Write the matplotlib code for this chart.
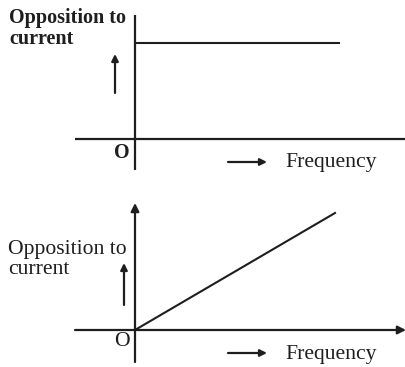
import matplotlib
matplotlib.use("Agg")
import matplotlib.pyplot as plt

# Data (abstract units)
freq = [0.0, 1.0]
opp_top = [1.0, 1.0]      # constant opposition (resistance)
opp_bottom = [0.0, 1.0]   # linear opposition (inductive reactance)
ylabel = "Opposition to\ncurrent"
xlabel = "Frequency"

W, H = 406, 367
fig = plt.figure(figsize=(W / 100, H / 100), dpi=100)
C = "#1e1e1e"
FONT = "Liberation Serif"
FS = 14.5
FS2 = 15.6

def add_panel(py0, py1, ox, oy, sx, sy):
    ax = fig.add_axes([0, 1 - py1 / H, 1, (py1 - py0) / H])
    ax.set_xlim((0 - ox) / sx, (W - ox) / sx)
    ax.set_ylim((oy - py1) / sy, (oy - py0) / sy)
    ax.axis("off")
    X = lambda px: (px - ox) / sx
    Y = lambda py: (oy - py) / sy
    return ax, X, Y

# ---- Top panel ----
ax1, X, Y = add_panel(0, 180, 135, 139, 204, 96)
ax1.plot([0, 0], [Y(170), Y(15)], color=C, lw=1.6, solid_capstyle="butt")
ax1.plot([X(75), X(406)], [0, 0], color=C, lw=1.6, solid_capstyle="butt")
ax1.plot(freq, opp_top, color=C, lw=1.5)
ax1.text(X(9), Y(8), ylabel, fontsize=FS, family=FONT, fontweight="bold",
         ha="left", va="top", color=C, linespacing=1.1)
ax1.annotate("", xy=(X(115), Y(54)), xytext=(X(115), Y(93)),
             arrowprops=dict(arrowstyle="-|>", color=C, lw=1.6, mutation_scale=10,
                             shrinkA=0, shrinkB=0))
ax1.text(X(122), Y(153), "O", fontsize=FS, family=FONT, fontweight="bold",
         ha="center", va="center", color=C)
ax1.annotate("", xy=(X(267), Y(162)), xytext=(X(228), Y(162)),
             arrowprops=dict(arrowstyle="-|>", color=C, lw=1.6, mutation_scale=10,
                             shrinkA=0, shrinkB=0))
ax1.text(X(285), Y(163), xlabel, fontsize=FS2, family=FONT,
         ha="left", va="center", color=C)

# ---- Bottom panel ----
ax2, X, Y = add_panel(180, 367, 135, 330, 200, 117)
ax2.annotate("", xy=(0, Y(203)), xytext=(0, Y(362)),
             arrowprops=dict(arrowstyle="-|>", color=C, lw=1.6, mutation_scale=12,
                             shrinkA=0, shrinkB=0))
ax2.annotate("", xy=(X(406), 0), xytext=(X(75), 0),
             arrowprops=dict(arrowstyle="-|>", color=C, lw=1.6, mutation_scale=12,
                             shrinkA=0, shrinkB=0))
ax2.plot(freq, opp_bottom, color=C, lw=1.5)
ax2.text(X(8), Y(240), ylabel, fontsize=FS2, family=FONT,
         ha="left", va="top", color=C, linespacing=1.1)
ax2.annotate("", xy=(X(124), Y(263)), xytext=(X(124), Y(305)),
             arrowprops=dict(arrowstyle="-|>", color=C, lw=1.6, mutation_scale=10,
                             shrinkA=0, shrinkB=0))
ax2.text(X(122), Y(342), "O", fontsize=FS2, family=FONT,
         ha="center", va="center", color=C)
ax2.annotate("", xy=(X(267), Y(353)), xytext=(X(228), Y(353)),
             arrowprops=dict(arrowstyle="-|>", color=C, lw=1.6, mutation_scale=10,
                             shrinkA=0, shrinkB=0))
ax2.text(X(285), Y(354), xlabel, fontsize=FS2, family=FONT,
         ha="left", va="center", color=C)

fig.savefig("out.png", dpi=100, facecolor="white")
